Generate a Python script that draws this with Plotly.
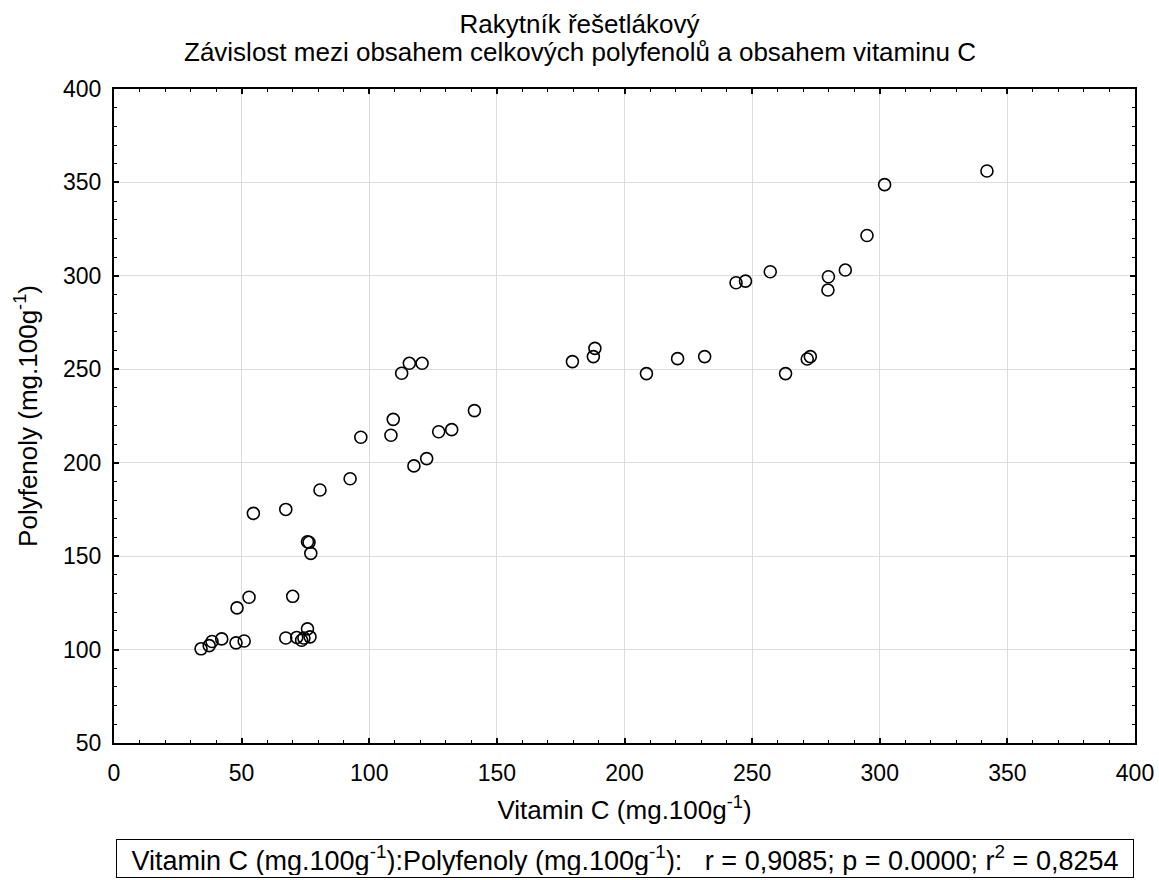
import plotly.graph_objects as go

vitamin_c = [34.1, 37.3, 38.4, 42.2, 47.8, 51.0, 48.2, 52.9, 70.0, 67.3, 71.6, 73.5, 74.4, 75.8, 76.8,
             54.6, 67.3, 80.7, 92.5, 96.7, 75.8, 76.4, 77.1,
             112.7, 115.7, 120.7, 109.4, 108.5, 127.2, 132.3, 141.2, 117.5, 122.5,
             179.6, 187.8, 188.4, 208.6, 220.8, 231.4, 263.1, 271.6, 272.8,
             342.0, 301.9, 295.0, 286.5, 279.9, 279.7, 257.1, 243.7, 247.4]
polyfenoly = [100.4, 102.1, 104.3, 105.7, 103.6, 104.6, 122.3, 128.0, 128.5, 106.2, 106.5, 105.0, 106.2, 111.1, 106.8,
              172.9, 175.0, 185.4, 191.4, 213.6, 157.7, 157.4, 151.5,
              247.9, 253.2, 253.2, 223.2, 214.7, 216.6, 217.7, 227.9, 198.3, 202.2,
              254.1, 256.8, 261.2, 247.7, 255.7, 256.8, 247.7, 255.5, 256.8,
              356.1, 348.8, 321.6, 303.1, 299.5, 292.4, 302.2, 296.3, 297.2]

title_line1 = "Rakytník řešetlákový"
title_line2 = "Závislost mezi obsahem celkových polyfenolů a obsahem vitaminu C"
x_title = "Vitamin C (mg.100g<sup>-1</sup>)"
y_title = "Polyfenoly (mg.100g<sup>-1</sup>)"
stats_text = ("Vitamin C (mg.100g<sup>-1</sup>):Polyfenoly (mg.100g<sup>-1</sup>):   "
              "r = 0,9085; p = 0.0000; r<sup>2</sup> = 0,8254")

FONT = "Arial, 'Liberation Sans', sans-serif"
TXT = 26
TICK = 23

fig = go.Figure()
fig.add_trace(go.Scatter(
    x=vitamin_c, y=polyfenoly, mode="markers",
    marker=dict(symbol="circle-open", size=12, color="black", line=dict(width=1.6, color="black")),
    showlegend=False, hoverinfo="x+y",
))

axis_common = dict(
    showline=True, linecolor="black", linewidth=2, mirror="allticks",
    ticks="inside", ticklen=5, tickwidth=1.5, tickcolor="black",
    showgrid=True, gridcolor="#dcdcdc", gridwidth=1,
    zeroline=False,
    tickfont=dict(family=FONT, size=TICK, color="black"),
    minor=dict(ticks="inside", ticklen=3, tickwidth=1.2, tickcolor="black", dtick=10, showgrid=False),
    automargin=False,
)

fig.update_xaxes(range=[0, 400], dtick=50, tick0=0, ticklabelstandoff=8,
                 title=dict(text=x_title, font=dict(family=FONT, size=TXT, color="black"), standoff=16),
                 **axis_common)
fig.update_yaxes(range=[50, 400], dtick=50, tick0=0, ticklabelstandoff=6,
                 title=dict(text=y_title, font=dict(family=FONT, size=TXT, color="black"), standoff=18),
                 **axis_common)

fig.add_annotation(
    text=title_line2, xref="paper", yref="paper", x=(579.5 - 114) / 1021, y=1 + (89 - 52) / 654,
    xanchor="center", yanchor="middle", showarrow=False,
    font=dict(family=FONT, size=TXT, color="black"),
)

fig.add_annotation(
    text=stats_text, xref="paper", yref="paper", x=0.5, y=(743 - 858) / 654,
    xanchor="center", yanchor="middle", showarrow=False, align="center",
    width=1012, height=33,
    font=dict(family=FONT, size=27, color="black"),
    bordercolor="black", borderwidth=1, borderpad=2, bgcolor="white",
)

fig.update_layout(
    width=1159, height=880,
    margin=dict(l=114, r=24, t=89, b=137, autoexpand=False),
    paper_bgcolor="white", plot_bgcolor="white",
    title=dict(text=title_line1, x=0.5, xref="container", xanchor="center",
               y=1 - 24 / 880, yref="container", yanchor="middle",
               font=dict(family=FONT, size=TXT, color="black")),
    font=dict(family=FONT, color="black"),
)

fig.write_html("out.html", config={"displayModeBar": False},
               post_script="document.body.style.margin='0';")
